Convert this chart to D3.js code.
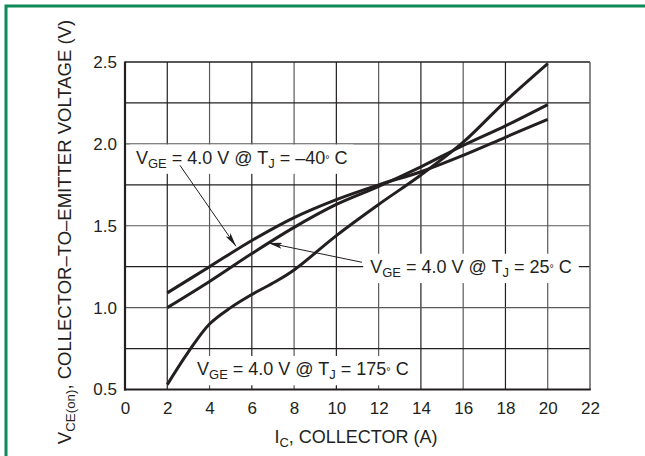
<!DOCTYPE html>
<html>
<head>
<meta charset="utf-8">
<script src="https://cdn.jsdelivr.net/npm/d3@7"></script>
<style>
  body { margin: 0; background: #fff; }
  text { font-family: "Liberation Sans", Arial, Helvetica, sans-serif; fill: #231f20; }
</style>
</head>
<body>
<div id="chart"></div>
<script>
// data
const current = [2, 4, 6, 8, 10, 12, 14, 16, 18, 20];
const vceMinus40 = [1.09, 1.25, 1.41, 1.55, 1.66, 1.75, 1.83, 1.93, 2.04, 2.15];
const vce25 = [1.00, 1.16, 1.33, 1.49, 1.63, 1.74, 1.86, 1.99, 2.11, 2.24];
const current175 = [2, 3, 4, 5, 6, 7, 8, 10, 12, 14, 16, 18, 20];
const vce175 = [0.53, 0.73, 0.90, 1.00, 1.08, 1.15, 1.23, 1.44, 1.63, 1.81, 2.01, 2.26, 2.49];

const xTicks = [0, 2, 4, 6, 8, 10, 12, 14, 16, 18, 20, 22];
const yTicks = [0.5, 1.0, 1.5, 2.0, 2.5];
const yGrid = [0.75, 1.0, 1.25, 1.5, 1.75, 2.0, 2.25];
const xGrid = [2, 4, 6, 8, 10, 12, 14, 16, 18, 20];

const svgWidth = 645;
const svgHeight = 456;

const svg = d3.select("#chart")
  .append("svg")
  .attr("width", svgWidth)
  .attr("height", svgHeight);

// green frame (top + left only)
svg.append("path")
  .attr("d", "M6,460V6H650")
  .attr("fill", "none")
  .attr("stroke", "#0c8a58")
  .attr("stroke-width", 3);

const x = d3.scaleLinear().domain([0, 22]).range([125, 590]);
const y = d3.scaleLinear().domain([0.5, 2.5]).range([389.5, 62]);

const ink = "#231f20";

// grid
svg.append("g").selectAll("line")
  .data(xGrid)
  .enter().append("line")
  .attr("x1", d => x(d)).attr("x2", d => x(d))
  .attr("y1", y(2.5)).attr("y2", y(0.5))
  .attr("stroke", (d, i) => i % 2 ? "#5a5a5a" : ink)
  .attr("stroke-width", 1.2);

svg.append("g").selectAll("line")
  .data(yGrid)
  .enter().append("line")
  .attr("x1", x(0)).attr("x2", x(22))
  .attr("y1", d => y(d)).attr("y2", d => y(d))
  .attr("stroke", (d, i) => i % 2 ? "#5a5a5a" : ink)
  .attr("stroke-width", 1.2);

// frame
svg.append("line").attr("x1", x(0)).attr("x2", x(22)).attr("y1", y(2.5)).attr("y2", y(2.5))
  .attr("stroke", ink).attr("stroke-width", 1.3);
svg.append("line").attr("x1", x(22)).attr("x2", x(22)).attr("y1", y(2.5)).attr("y2", y(0.5))
  .attr("stroke", "#6a6a6a").attr("stroke-width", 1.6);
svg.append("line").attr("x1", x(0)).attr("x2", x(0)).attr("y1", y(2.5) - 0.6).attr("y2", y(0.5) + 1)
  .attr("stroke", ink).attr("stroke-width", 2.2);
svg.append("line").attr("x1", x(0) - 1).attr("x2", x(22) + 0.8).attr("y1", y(0.5)).attr("y2", y(0.5))
  .attr("stroke", ink).attr("stroke-width", 2.2);

// tick labels
const bottomAxis = d3.axisBottom(x).tickValues(xTicks).tickSize(0).tickPadding(12);
const leftAxis = d3.axisLeft(y).tickValues(yTicks).tickSize(0).tickPadding(8)
  .tickFormat(d3.format(".1f"));

const gx = svg.append("g")
  .attr("transform", `translate(0, ${y(0.5)})`)
  .call(bottomAxis);
const gy = svg.append("g")
  .attr("transform", `translate(${x(0)}, 0)`)
  .call(leftAxis);
[gx, gy].forEach(g => {
  g.select(".domain").remove();
  g.selectAll("text")
    .attr("font-size", 17)
    .attr("font-family", "Liberation Sans, Arial, sans-serif")
    .attr("fill", ink);
});

// curves
const line = d3.line()
  .x(d => x(d[0]))
  .y(d => y(d[1]))
  .curve(d3.curveCatmullRom.alpha(0.5));

const series = [
  d3.zip(current, vceMinus40),
  d3.zip(current, vce25),
  d3.zip(current175, vce175)
];

svg.append("g").selectAll("path")
  .data(series)
  .enter().append("path")
  .attr("d", line)
  .attr("fill", "none")
  .attr("stroke", ink)
  .attr("stroke-width", 3)
  .attr("stroke-linecap", "butt");

// rich text helper: parts with sub / deg
function richText(sel, parts, size) {
  let shift = 0;
  parts.forEach(p => {
    const ts = sel.append("tspan").text(p.t);
    let target = 0;
    if (p.sub) {
      ts.attr("font-size", size * 0.72);
      target = size * 0.24;
    } else if (p.deg) {
      ts.attr("font-size", size * 0.6);
      target = -size * 0.02;
    }
    if (target !== shift) ts.attr("dy", target - shift);
    shift = target;
  });
}

function label(cx, cy, parts, size, pad) {
  const g = svg.append("g");
  const rect = g.append("rect").attr("fill", "#fff");
  const t = g.append("text")
    .attr("x", x(cx))
    .attr("y", y(cy))
    .attr("font-size", size);
  richText(t, parts, size);
  const b = t.node().getBBox();
  rect.attr("x", b.x - pad[0])
    .attr("y", b.y - pad[1])
    .attr("width", b.width + pad[0] * 2)
    .attr("height", b.height + pad[1] * 2);
  return g;
}

const labelMinus40 = [
  { t: "V" }, { t: "GE", sub: true }, { t: " = 4.0 V @ T" }, { t: "J", sub: true },
  { t: " = \u201340" }, { t: "\u00b0", deg: true }, { t: " C" }
];
const label25 = [
  { t: "V" }, { t: "GE", sub: true }, { t: " = 4.0 V @ T" }, { t: "J", sub: true },
  { t: " = 25" }, { t: "\u00b0", deg: true }, { t: " C" }
];
const label175 = [
  { t: "V" }, { t: "GE", sub: true }, { t: " = 4.0 V @ T" }, { t: "J", sub: true },
  { t: " = 175" }, { t: "\u00b0", deg: true }, { t: " C" }
];

// leader arrows (data units)
const arrows = [
  { from: [2.6, 1.869], to: [5.25, 1.375] },
  { from: [11.21, 1.277], to: [6.78, 1.395] }
];

svg.append("defs").append("marker")
  .attr("id", "head")
  .attr("markerUnits", "userSpaceOnUse")
  .attr("viewBox", "0 0 14 6")
  .attr("refX", 14).attr("refY", 3)
  .attr("markerWidth", 14).attr("markerHeight", 6)
  .attr("orient", "auto")
  .append("path")
  .attr("d", "M0,0L14,3L0,6L3,3Z")
  .attr("fill", ink);

label(0.52, 1.88, labelMinus40, 18, [6, 3]);
label(11.6, 1.213, label25, 18, [7, 3]);
label(3.41, 0.589, label175, 18, [6, 3]);

svg.append("g").selectAll("line")
  .data(arrows)
  .enter().append("line")
  .attr("x1", d => x(d.from[0])).attr("y1", d => y(d.from[1]))
  .attr("x2", d => x(d.to[0])).attr("y2", d => y(d.to[1]))
  .attr("stroke", ink)
  .attr("stroke-width", 1)
  .attr("marker-end", "url(#head)");

// axis titles
const xTitle = svg.append("text")
  .attr("x", 356)
  .attr("y", 443)
  .attr("text-anchor", "middle")
  .attr("font-size", 18);
richText(xTitle, [{ t: "I" }, { t: "C", sub: true }, { t: ", COLLECTOR (A)" }], 18);

const yTitle = svg.append("text")
  .attr("transform", "translate(71, 232) rotate(-90)")
  .attr("text-anchor", "middle")
  .attr("font-size", 18.5);
richText(yTitle, [{ t: "V" }, { t: "CE(on)", sub: true },
  { t: ", COLLECTOR\u2013TO\u2013EMITTER VOLTAGE (V)" }], 18.5);
</script>
</body>
</html>
